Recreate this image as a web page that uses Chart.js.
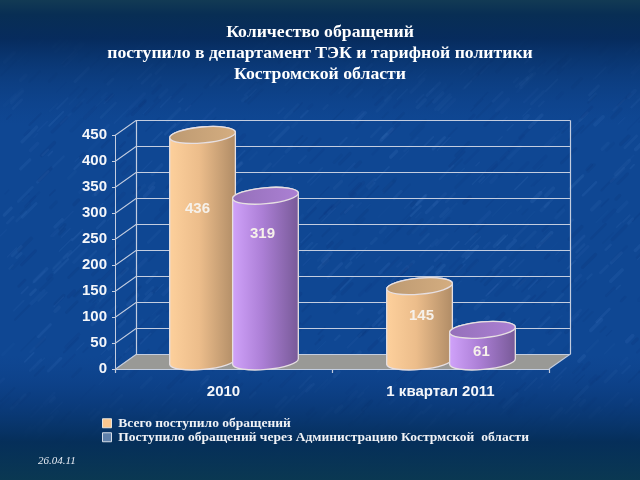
<!DOCTYPE html>
<html>
<head>
<meta charset="utf-8">
<style>
  html, body { margin: 0; padding: 0; background: #0d3f86; }
  canvas { display: block; }
</style>
<script src="https://cdn.jsdelivr.net/npm/chart.js@4/dist/chart.umd.min.js"></script>
</head>
<body>
<canvas id="chart" width="640" height="480"></canvas>
<script>
  'use strict';

  const categories = ['2010', '1 квартал 2011'];
  const totalRequests = [436, 145];
  const adminRequests = [319, 61];
  const seriesNames = ['Всего поступило обращений', 'Поступило обращений через Администрацию Кострмской  области'];
  const yTicks = [0, 50, 100, 150, 200, 250, 300, 350, 400, 450];
  const titleLines = ['Количество обращений', 'поступило в департамент ТЭК и тарифной политики', 'Костромской области'];
  const dateStamp = '26.04.11';

  const depth = { x: 21, y: -15 };
  const wallColor = '#c3cde0';
  const serif = '"Liberation Serif", serif';
  const sans = '"Liberation Sans", sans-serif';

  // Cylinder palettes, [left, middle, right] plus the top cap
  const cylinders = [
    { body: ['#fdd09c', '#ecbd8b', '#b08c66'], cap: ['#bd9a72', '#d4ad80'] },
    { body: ['#d0a2fa', '#ac7fd6', '#785a98'], cap: ['#9570ba', '#ab80d3'] }
  ];
  // Where the value labels sit below the cap, per dataset and category
  const labelDrop = [[74, 30], [38, 22]];
  const labelShift = [[-5, 2], [-3, -1]];

  // Blue paper texture behind everything
  const backdrop = {
    id: 'backdrop',
    beforeDraw(chart) {
      const { ctx, width, height } = chart;
      ctx.save();
      ctx.fillStyle = '#0f4793';
      ctx.fillRect(0, 0, width, height);
      let seed = 7;
      const next = () => (seed = (seed * 16807) % 2147483647) / 2147483647;
      ctx.lineCap = 'round';
      for (let i = 0; i < 1500; i++) {
        const x = next() * width;
        const y = next() * height;
        const len = 5 + next() * 16;
        const light = next() > 0.45;
        ctx.strokeStyle = light ? 'rgba(110,160,230,' + (0.03 + next() * 0.07) + ')' : 'rgba(8,30,90,' + (0.04 + next() * 0.07) + ')';
        ctx.lineWidth = 1 + next() * 3;
        ctx.beginPath();
        ctx.moveTo(x, y);
        ctx.lineTo(x + len * 0.7, y - len * 0.7);
        ctx.stroke();
      }
      // Darkening toward the top and bottom edges, over the texture
      const fade = ctx.createLinearGradient(0, 0, 0, height);
      fade.addColorStop(0, 'rgba(18,58,84,1)');
      fade.addColorStop(0.03, 'rgba(8,46,84,1)');
      fade.addColorStop(0.08, 'rgba(6,42,90,0.95)');
      fade.addColorStop(0.16, 'rgba(9,52,110,0.55)');
      fade.addColorStop(0.26, 'rgba(12,60,130,0)');
      fade.addColorStop(0.74, 'rgba(12,60,130,0)');
      fade.addColorStop(0.84, 'rgba(8,52,110,0.6)');
      fade.addColorStop(0.92, 'rgba(5,46,88,0.97)');
      fade.addColorStop(1, 'rgba(10,56,82,1)');
      ctx.fillStyle = fade;
      ctx.fillRect(0, 0, width, height);
      ctx.restore();
    },
    afterLayout(chart) {
      // Legend sits left aligned under the axis, title centres on the page
      chart.legend.left = 102;
      chart.legend.top = 416;
      chart.legend.bottom = 446;
      chart.titleBlock.left = 0;
      chart.titleBlock.right = 640;
    }
  };

  // Fake 3D walls and floor, drawn from the value scale
  const walls = {
    id: 'walls',
    beforeDatasetsDraw(chart) {
      const { ctx, chartArea: a, scales } = chart;
      const zero = scales.y.getPixelForValue(0);
      ctx.save();
      ctx.fillStyle = '#999996';
      ctx.beginPath();
      ctx.moveTo(a.left, zero);
      ctx.lineTo(a.right, zero);
      ctx.lineTo(a.right + depth.x, zero + depth.y);
      ctx.lineTo(a.left + depth.x, zero + depth.y);
      ctx.closePath();
      ctx.fill();
      ctx.strokeStyle = wallColor;
      ctx.lineWidth = 1.2;
      yTicks.forEach((v) => {
        const y = Math.round(scales.y.getPixelForValue(v)) + 0.5;
        ctx.beginPath();
        ctx.moveTo(a.left - 3, y);
        ctx.lineTo(a.left, y);
        ctx.lineTo(a.left + depth.x, y + depth.y);
        ctx.lineTo(a.right + depth.x, y + depth.y);
        ctx.stroke();
      });
      const top = scales.y.getPixelForValue(450);
      ctx.beginPath();
      ctx.moveTo(a.left + depth.x + 0.5, top + depth.y);
      ctx.lineTo(a.left + depth.x + 0.5, zero + depth.y);
      ctx.moveTo(a.right + depth.x + 0.5, top + depth.y);
      ctx.lineTo(a.right + depth.x + 0.5, zero + depth.y);
      ctx.lineTo(a.right, zero);
      // Category boundary ticks under the front edge
      [a.left, (a.left + a.right) / 2, a.right].forEach((x) => {
        ctx.moveTo(Math.round(x) + 0.5, zero);
        ctx.lineTo(Math.round(x) + 0.5, zero + 4);
      });
      ctx.stroke();
      ctx.restore();
    }
  };

  function drawCylinder(ctx, bar, style) {
    const rx = bar.width / 2;
    const ry = 8;
    const tilt = -5 * Math.PI / 180;
    const cx = bar.x + depth.x / 2;
    const top = bar.y + depth.y / 2;
    const base = bar.base + depth.y / 2;

    const side = ctx.createLinearGradient(cx - rx, 0, cx + rx, 0);
    side.addColorStop(0, style.body[0]);
    side.addColorStop(0.45, style.body[1]);
    side.addColorStop(1, style.body[2]);
    ctx.beginPath();
    ctx.ellipse(cx, base, rx, ry, tilt, Math.PI, 0, true);
    ctx.ellipse(cx, top, rx, ry, tilt, 0, Math.PI, true);
    ctx.closePath();
    ctx.fillStyle = side;
    ctx.fill();
    ctx.strokeStyle = '#e6dfe2';
    ctx.lineWidth = 1.3;
    ctx.stroke();

    const capFill = ctx.createLinearGradient(cx - rx, 0, cx + rx, 0);
    capFill.addColorStop(0, style.cap[0]);
    capFill.addColorStop(1, style.cap[1]);
    ctx.beginPath();
    ctx.ellipse(cx, top, rx, ry, tilt, 0, Math.PI * 2);
    ctx.fillStyle = capFill;
    ctx.fill();
    ctx.stroke();
  }

  // Replaces the flat bars with cylinders and their value labels
  const cylinderBars = {
    id: 'cylinderBars',
    beforeDatasetDraw() {
      return false;
    },
    afterDatasetsDraw(chart) {
      const { ctx } = chart;
      chart.data.datasets.forEach((ds, i) => {
        chart.getDatasetMeta(i).data.forEach((bar, c) => {
          ctx.save();
          drawCylinder(ctx, bar, cylinders[i]);
          ctx.fillStyle = '#f6f1ea';
          ctx.font = 'bold 15px ' + sans;
          ctx.textAlign = 'center';
          ctx.textBaseline = 'middle';
          ctx.fillText(ds.data[c], bar.x + depth.x / 2 + labelShift[i][c], bar.y + depth.y / 2 + labelDrop[i][c]);
          ctx.restore();
        });
      });
    }
  };

  const dateMark = {
    id: 'dateMark',
    afterDraw(chart) {
      const { ctx } = chart;
      ctx.save();
      ctx.fillStyle = '#e8edf5';
      ctx.font = 'italic 11px ' + serif;
      ctx.textBaseline = 'middle';
      ctx.fillText(dateStamp, 38, 461);
      ctx.restore();
    }
  };

  new Chart(document.getElementById('chart'), {
    type: 'bar',
    data: {
      labels: categories,
      datasets: [
        { label: seriesNames[0], data: totalRequests, backgroundColor: '#fbc78f', borderColor: '#e8e4dc', borderWidth: 1 },
        { label: seriesNames[1], data: adminRequests, backgroundColor: '#5f80aa', borderColor: '#d5dde8', borderWidth: 1 }
      ]
    },
    plugins: [backdrop, walls, cylinderBars, dateMark],
    options: {
      responsive: false,
      animation: false,
      layout: { padding: { left: 60, right: 91, top: 0, bottom: 41 } },
      datasets: { bar: { categoryPercentage: 0.58, barPercentage: 1.048 } },
      scales: {
        x: {
          grid: { display: false },
          border: { color: wallColor },
          ticks: { color: '#f4f6fa', font: { family: sans, size: 15, weight: 'bold' }, padding: 6 },
          afterFit(scale) { scale.height = 32; }
        },
        y: {
          min: 0,
          max: 450,
          afterBuildTicks(scale) { scale.ticks = yTicks.map((value) => ({ value })); },
          grid: { display: false, tickLength: 4 },
          border: { color: wallColor },
          ticks: { color: '#f4f6fa', font: { family: sans, size: 15, weight: 'bold' }, padding: 4 },
          afterFit(scale) { scale.width = 55; }
        }
      },
      plugins: {
        tooltip: { enabled: false },
        title: {
          display: true,
          text: titleLines,
          color: '#ffffff',
          font: { family: serif, size: 17.7, weight: 'bold', lineHeight: 1.19 },
          padding: { top: 22, bottom: 50 }
        },
        legend: {
          position: 'bottom',
          align: 'start',
          onClick: null,
          labels: {
            color: '#f0f2f6',
            font: { family: serif, size: 13.5, weight: 'bold' },
            boxWidth: 9,
            boxHeight: 9,
            padding: 0.5
          }
        }
      }
    }
  });
</script>
</body>
</html>
